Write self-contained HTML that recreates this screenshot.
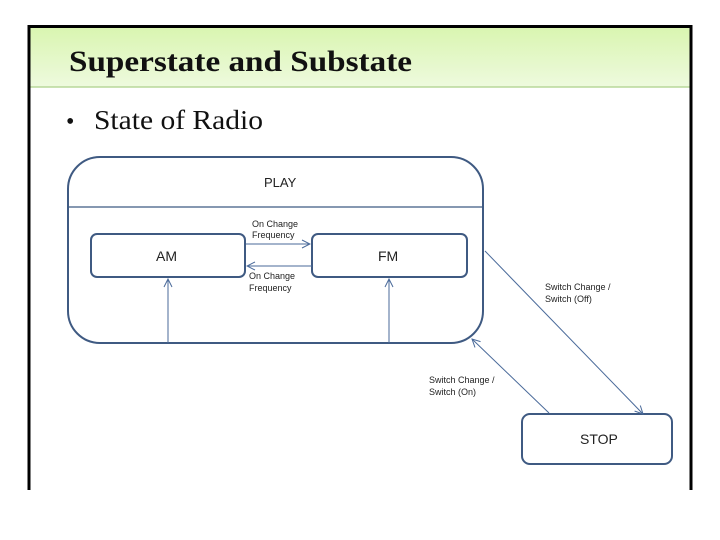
<!DOCTYPE html>
<html><head><style>
html,body{margin:0;padding:0;background:#fff;width:720px;height:540px;overflow:hidden}
</style></head><body>
<svg width="720" height="540" viewBox="0 0 720 540" xmlns="http://www.w3.org/2000/svg">
<defs>
<linearGradient id="g" x1="0" y1="0" x2="0" y2="1">
<stop offset="0" stop-color="#d9f5b0"/><stop offset="1" stop-color="#eefade"/>
</linearGradient>
<marker id="a" markerWidth="10" markerHeight="10" refX="9" refY="5" orient="auto" markerUnits="userSpaceOnUse">
<path d="M1,1 L9,5 L1,9" fill="none" stroke="#4a6a9a" stroke-width="1"/>
</marker>
</defs>
<rect x="29" y="27" width="662" height="60" fill="url(#g)"/>
<line x1="29" y1="87" x2="691" y2="87" stroke="#b8d89a" stroke-width="1.5"/>
<path d="M29,490 L29,26.5 L691,26.5 L691,490" fill="none" stroke="#000" stroke-width="3"/>
<text x="69" y="71" font-family="Liberation Serif, serif" font-weight="bold" font-size="30" fill="#111" textLength="343" lengthAdjust="spacingAndGlyphs">Superstate and Substate</text>
<text x="66" y="129" font-family="Liberation Serif, serif" font-size="24" fill="#111">•</text>
<text x="94" y="129" font-family="Liberation Serif, serif" font-size="27" fill="#111" textLength="169" lengthAdjust="spacingAndGlyphs">State of Radio</text>
<g fill="none" stroke="#3f5a82" stroke-width="2">
<rect x="68" y="157" width="415" height="186" rx="32"/>
<rect x="91" y="234" width="154" height="43" rx="6"/>
<rect x="312" y="234" width="155" height="43" rx="6"/>
<rect x="522" y="414" width="150" height="50" rx="8"/>
</g>
<line x1="68" y1="207" x2="483" y2="207" stroke="#3f5a82" stroke-width="1.2"/>
<g stroke="#4a6a9a" stroke-width="1" fill="none">
<line x1="246" y1="244" x2="310" y2="244" marker-end="url(#a)"/>
<line x1="312" y1="266" x2="247" y2="266" marker-end="url(#a)"/>
<line x1="168" y1="343" x2="168" y2="279" marker-end="url(#a)"/>
<line x1="389" y1="343" x2="389" y2="279" marker-end="url(#a)"/>
<line x1="485" y1="251" x2="643" y2="414" marker-end="url(#a)"/>
<line x1="549" y1="413" x2="472" y2="339" marker-end="url(#a)"/>
</g>
<g font-family="Liberation Sans, sans-serif" fill="#222">
<text x="264" y="187" font-size="13">PLAY</text>
<text x="156" y="261" font-size="14">AM</text>
<text x="378" y="261" font-size="14">FM</text>
<text x="580" y="444" font-size="14">STOP</text>
<g font-size="9">
<text x="252" y="227">On Change</text>
<text x="252" y="238">Frequency</text>
<text x="249" y="279">On Change</text>
<text x="249" y="291">Frequency</text>
<text x="545" y="290">Switch Change /</text>
<text x="545" y="302">Switch (Off)</text>
<text x="429" y="383">Switch Change /</text>
<text x="429" y="395">Switch (On)</text>
</g>
</g>
</svg>
</body></html>
